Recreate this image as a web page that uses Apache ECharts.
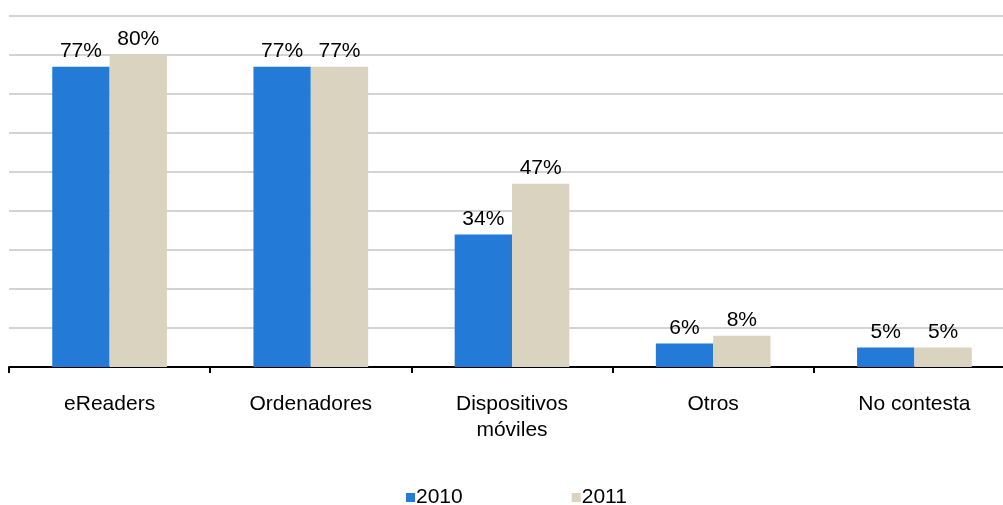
<!DOCTYPE html>
<html>
<head>
<meta charset="utf-8">
<script src="https://cdn.jsdelivr.net/npm/echarts@6/dist/echarts.min.js"></script>
<style>
html,body{margin:0;padding:0;background:#fff;}
#chart{width:1003px;height:505px;}
</style>
</head>
<body>
<div id="chart"></div>
<script>
// categorias y valores (%)
var categorias = ['eReaders', 'Ordenadores', 'Dispositivos\nmóviles', 'Otros', 'No contesta'];
var valores2010 = [77, 77, 34, 6, 5];
var valores2011 = [80, 77, 47, 8, 5];
var anios = ['2010', '2011'];

var fuente = 'Liberation Sans, Arial, sans-serif';

var myChart = echarts.init(document.getElementById('chart'));
var etiqueta = {
	show: true,
	position: 'top',
	distance: 5,
	formatter: '{c}%',
	color: '#000',
	fontSize: 21,
	fontFamily: fuente
};
var option = {
	animation: false,
	grid: {left: 9, width: 1006, top: 16, height: 351, outerBoundsMode: 'none', containLabel: false},
	legend: {
		data: anios,
		top: 482,
		left: 401,
		itemGap: 109,
		itemWidth: 9,
		itemHeight: 9,
		icon: 'rect',
		textStyle: {fontSize: 21, fontFamily: fuente, color: '#000', padding: [0, 0, 0, -4]}
	},
	xAxis: {
		type: 'category',
		data: categorias,
		axisLine: {lineStyle: {color: '#000', width: 2}},
		axisTick: {show: true, length: 6, lineStyle: {color: '#000', width: 2}},
		axisLabel: {fontSize: 21, fontFamily: fuente, color: '#000', margin: 24, lineHeight: 26}
	},
	yAxis: {
		type: 'value',
		min: 0,
		max: 90,
		interval: 10,
		axisLabel: {show: false},
		axisLine: {show: false},
		axisTick: {show: false},
		splitLine: {lineStyle: {color: '#d3d3d3', width: 2}}
	},
	series: [
		{
			name: anios[0],
			type: 'bar',
			data: valores2010,
			barGap: '0%',
			barCategoryGap: '43%',
			itemStyle: {color: '#237bd7'},
			label: etiqueta
		},
		{
			name: anios[1],
			type: 'bar',
			data: valores2011,
			itemStyle: {color: '#d9d3bf'},
			label: etiqueta
		}
	]
};
myChart.setOption(option);
</script>
</body>
</html>
